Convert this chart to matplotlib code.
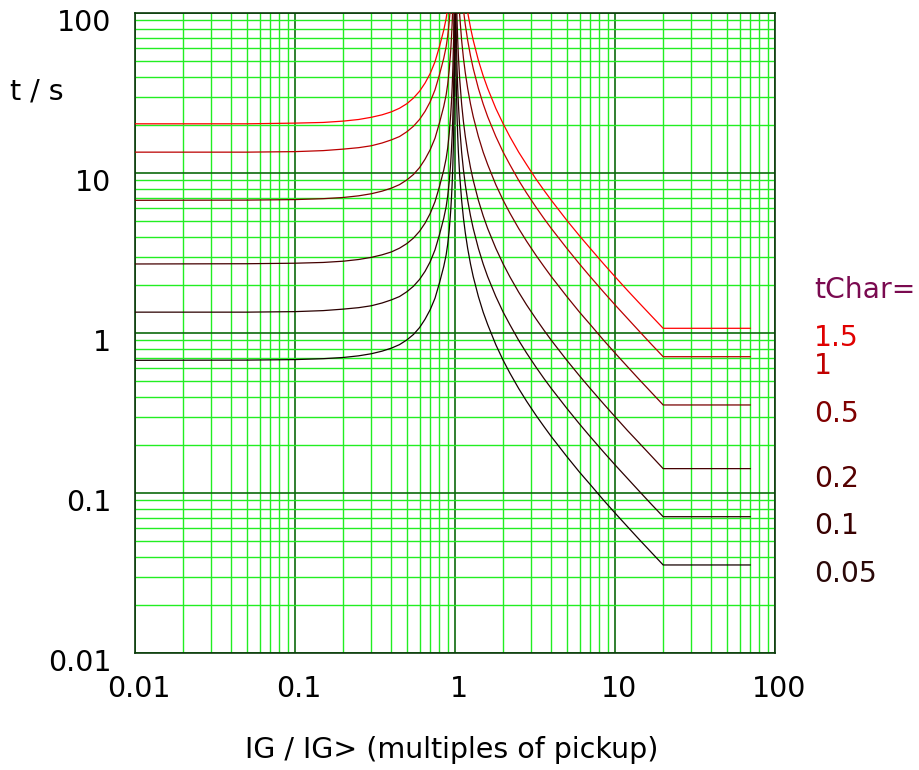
import matplotlib
matplotlib.use('Agg')
import matplotlib.pyplot as plt
import matplotlib.transforms as mtransforms
from matplotlib.ticker import FixedLocator, FixedFormatter, LogLocator, NullFormatter

# Multiples of pickup (x) below and above 1
i_left = [0.01, 0.05, 0.1, 0.15, 0.2, 0.25, 0.3, 0.35, 0.4, 0.45, 0.5, 0.55, 0.6,
          0.65, 0.7, 0.75, 0.8, 0.85, 0.88, 0.9, 0.92, 0.94, 0.95, 0.96, 0.97,
          0.98, 0.99, 0.995, 0.998]
i_right = [1.002, 1.005, 1.01, 1.015, 1.02, 1.03, 1.04, 1.05, 1.07, 1.1, 1.13, 1.16,
           1.2, 1.25, 1.3, 1.4, 1.5, 1.6, 1.8, 2, 2.2, 2.5, 2.8, 3.2, 3.6, 4, 5, 6,
           7, 8.5, 10, 12, 14, 17, 20, 70]

# Trip times (s), one pair of lists per tChar
t005_left = [0.675, 0.677, 0.682, 0.691, 0.703, 0.720, 0.742, 0.770, 0.804, 0.846,
             0.905, 0.979, 1.08, 1.22, 1.40, 1.65, 2.06, 2.60, 3.07, 3.58, 4.39,
             5.80, 6.93, 8.61, 11.4, 17.0, 33.9, 67.7, 169]
t005_right = [338, 135, 67.5, 45.0, 33.8, 22.5, 16.9, 13.5, 9.65, 6.75, 5.19, 4.22,
              3.38, 2.70, 2.25, 1.69, 1.35, 1.13, 0.844, 0.675, 0.563, 0.450, 0.375,
              0.307, 0.260, 0.225, 0.169, 0.135, 0.113, 0.090, 0.075, 0.0614,
              0.0519, 0.0422, 0.0355, 0.0355]

t01_left = [1.35, 1.35, 1.36, 1.38, 1.41, 1.44, 1.48, 1.54, 1.61, 1.69, 1.81, 1.96,
            2.16, 2.43, 2.79, 3.31, 4.12, 5.20, 6.14, 7.16, 8.79, 11.6, 13.9, 17.2,
            22.8, 34.1, 67.8, 135, 338]
t01_right = [675, 270, 135, 90.0, 67.5, 45.0, 33.8, 27.0, 19.3, 13.5, 10.4, 8.44,
             6.75, 5.40, 4.50, 3.38, 2.70, 2.25, 1.69, 1.35, 1.13, 0.900, 0.750,
             0.614, 0.519, 0.450, 0.338, 0.270, 0.225, 0.180, 0.150, 0.123, 0.104,
             0.0844, 0.0711, 0.0711]

t02_left = [2.70, 2.71, 2.73, 2.76, 2.81, 2.88, 2.97, 3.08, 3.21, 3.39, 3.62, 3.92,
            4.32, 4.86, 5.59, 6.62, 8.24, 10.4, 12.3, 14.3, 17.6, 23.2, 27.7, 34.4,
            45.7, 68.2, 136, 271, 676]
t02_right = [1350, 540, 270, 180, 135, 90.0, 67.5, 54.0, 38.6, 27.0, 20.8, 16.9,
             13.5, 10.8, 9.00, 6.75, 5.40, 4.50, 3.38, 2.70, 2.25, 1.80, 1.50, 1.23,
             1.04, 0.900, 0.675, 0.540, 0.450, 0.360, 0.300, 0.245, 0.208, 0.169,
             0.142, 0.142]

t05_left = [6.75, 6.77, 6.82, 6.91, 7.03, 7.20, 7.42, 7.70, 8.04, 8.46, 9.05, 9.79,
            10.8, 12.2, 14.0, 16.5, 20.6, 26.0, 30.7, 35.8, 43.9, 58.0, 69.3, 86.1,
            114, 170, 339, 677, 1690]
t05_right = [3380, 1350, 675, 450, 338, 225, 169, 135, 96.5, 67.5, 51.9, 42.2, 33.8,
             27.0, 22.5, 16.9, 13.5, 11.3, 8.44, 6.75, 5.63, 4.50, 3.75, 3.07, 2.60,
             2.25, 1.69, 1.35, 1.13, 0.900, 0.750, 0.614, 0.519, 0.422, 0.355, 0.355]

t1_left = [13.5, 13.5, 13.6, 13.8, 14.1, 14.4, 14.8, 15.4, 16.1, 16.9, 18.1, 19.6,
           21.6, 24.3, 27.9, 33.1, 41.2, 52.0, 61.4, 71.6, 87.9, 116, 139, 172,
           228, 341, 678, 1350, 3380]
t1_right = [6750, 2700, 1350, 900, 675, 450, 338, 270, 193, 135, 104, 84.4, 67.5,
            54.0, 45.0, 33.8, 27.0, 22.5, 16.9, 13.5, 11.3, 9.00, 7.50, 6.14, 5.19,
            4.50, 3.38, 2.70, 2.25, 1.80, 1.50, 1.23, 1.04, 0.844, 0.711, 0.711]

t15_left = [20.3, 20.3, 20.5, 20.7, 21.1, 21.6, 22.3, 23.1, 24.1, 25.4, 27.1, 29.4,
            32.4, 36.5, 41.9, 49.6, 61.8, 78.0, 92.1, 107, 132, 174, 208, 258, 343,
            511, 1020, 2030, 5070]
t15_right = [10100, 4050, 2030, 1350, 1010, 675, 506, 405, 289, 203, 156, 127, 101,
             81.0, 67.5, 50.6, 40.5, 33.8, 25.3, 20.3, 16.9, 13.5, 11.3, 9.20, 7.79,
             6.75, 5.06, 4.05, 3.38, 2.70, 2.25, 1.84, 1.56, 1.27, 1.07, 1.07]

tchar_labels = ['0.05', '0.1', '0.2', '0.5', '1', '1.5']
curves = [(t005_left, t005_right), (t01_left, t01_right), (t02_left, t02_right),
          (t05_left, t05_right), (t1_left, t1_right), (t15_left, t15_right)]
line_colors = ['#140000', '#2a0000', '#440000', '#770000', '#bb0000', '#ff0000']
label_colors = ['#2a0808', '#380000', '#550000', '#800000', '#c00000', '#e00000']
# baseline of each label in pixels from the top of the figure
label_base_px = [582, 534, 487, 422, 374, 346]

W, H = 920, 770
fig = plt.figure(figsize=(W / 100, H / 100), dpi=100)
ax = fig.add_axes([135 / W, 1 - 653 / H, 640 / W, 640 / H])

for (tl, tr), c in zip(curves, line_colors):
    ax.plot(i_left, tl, color=c, lw=0.9, zorder=3)
    ax.plot(i_right, tr, color=c, lw=0.9, zorder=3)

ax.set_xscale('log')
ax.set_yscale('log')
ax.set_xlim(0.01, 100)
ax.set_ylim(0.01, 100)

decades = [0.01, 0.1, 1, 10, 100]
dec_labels = ['0.01', '0.1', '1', '10', '100']
for axis in (ax.xaxis, ax.yaxis):
    axis.set_major_locator(FixedLocator(decades))
    axis.set_major_formatter(FixedFormatter(dec_labels))
    axis.set_minor_locator(LogLocator(base=10, subs=range(2, 10), numticks=20))
    axis.set_minor_formatter(NullFormatter())

ax.grid(True, which='minor', color='#22ee22', lw=1.0, zorder=1)
ax.grid(True, which='major', color='#0d6a0d', lw=1.2, zorder=2)
ax.set_axisbelow(True)
ax.tick_params(which='both', length=0)
ax.tick_params(axis='x', pad=16, labelsize=20.5)
ax.tick_params(axis='y', pad=17, labelsize=20.5)
for sp in ax.spines.values():
    sp.set_color('#0c3a0c')
    sp.set_linewidth(1.2)

off = mtransforms.ScaledTranslation(0, -7 / 100, fig.dpi_scale_trans)
for lab in ax.get_yticklabels():
    lab.set_transform(lab.get_transform() + off)
offx = mtransforms.ScaledTranslation(4 / 100, 0, fig.dpi_scale_trans)
for lab in ax.get_xticklabels():
    lab.set_transform(lab.get_transform() + offx)

fig.text(10 / W, 1 - 100 / H, 't / s', fontsize=20.5, ha='left', va='baseline')
fig.text(452 / W, 1 - 758 / H, 'IG / IG> (multiples of pickup)', fontsize=20.5,
         ha='center', va='baseline')

fig.text(814 / W, 1 - 298 / H, 'tChar=', fontsize=20.3, color='#7a0a50',
         ha='left', va='baseline')
for lab, c, yb in zip(tchar_labels, label_colors, label_base_px):
    fig.text(814 / W, 1 - yb / H, lab, fontsize=20.3, color=c, ha='left', va='baseline')

fig.savefig('out.png', dpi=100)
